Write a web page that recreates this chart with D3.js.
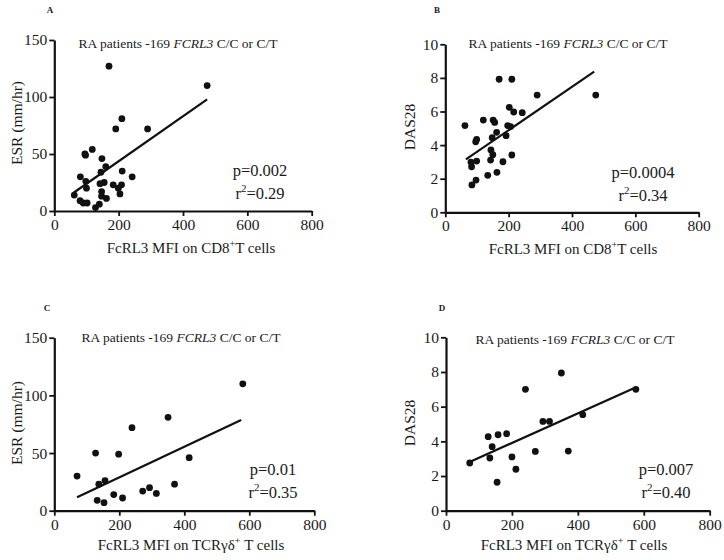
<!DOCTYPE html>
<html>
<head>
<meta charset="utf-8">
<script src="https://cdn.jsdelivr.net/npm/d3@7"></script>
<style>
  html, body { margin: 0; padding: 0; background: #fff; }
  svg text { font-family: "Liberation Serif", "Times New Roman", serif; fill: #1a1a1a; }
</style>
</head>
<body>
<svg id="chart" width="724" height="560"></svg>
<script>
// ---------- DATA ----------
// Panel A: FcRL3 MFI on CD8+ T cells vs ESR
const aMfi = [170, 475, 210, 191, 290, 118, 95, 97, 148, 160, 211, 145, 81, 242, 98, 155, 142, 183, 209, 100, 199, 147, 204, 62, 147, 162, 80, 90, 102, 140, 128];
const aEsr = [127, 110, 81, 72, 72, 54, 50, 49, 46, 39, 35, 34, 30, 30, 26, 25, 24, 23, 23, 20, 20, 17, 15, 14, 13, 11, 9, 7, 7, 6, 3];
// Panel B: FcRL3 MFI on CD8+ T cells vs DAS28
const bMfi = [170, 210, 290, 475, 202, 216, 243, 120, 151, 156, 62, 197, 206, 162, 192, 148, 99, 96, 144, 150, 210, 143, 182, 99, 81, 83, 134, 163, 97, 84];
const bDas = [7.92, 7.92, 6.98, 6.98, 6.25, 5.97, 5.93, 5.49, 5.49, 5.35, 5.16, 5.16, 5.1, 4.76, 4.56, 4.44, 4.34, 4.2, 3.71, 3.43, 3.41, 3.11, 3.01, 3.05, 2.99, 2.71, 2.2, 2.38, 1.92, 1.63];
// Panel C: FcRL3 MFI on TCRγδ+ T cells vs ESR
const cMfi = [580, 350, 239, 127, 198, 415, 70, 156, 137, 370, 293, 272, 314, 183, 210, 132, 153];
const cEsr = [110, 81, 72, 50, 49, 46, 30, 26, 23, 23, 20, 17, 15, 14, 11, 9, 7];
// Panel D: FcRL3 MFI on TCRγδ+ T cells vs DAS28
const dMfi = [350, 241, 576, 415, 294, 314, 128, 158, 184, 140, 271, 371, 133, 200, 72, 212, 155];
const dDas = [7.94, 7.0, 7.0, 5.54, 5.15, 5.15, 4.27, 4.38, 4.44, 3.69, 3.42, 3.44, 3.04, 3.1, 2.75, 2.39, 1.64];
// Regression line end points
const aFit = [[60, 16], [475, 98]];
const bFit = [[65, 3.15], [470, 8.37]];
const cFit = [[70, 11.6], [575, 78.6]];
const dFit = [[70, 2.8], [575, 7.1]];
// Tick values
const xTicks = [0, 200, 400, 600, 800];
const esrTicks = [0, 50, 100, 150];
const dasTicks = [0, 2, 4, 6, 8, 10];
// Annotation text
const pValues = ["p=0.002", "p=0.0004", "p=0.01", "p=0.007"];
const r2Values = ["0.29", "0.34", "0.35", "0.40"];
const panelLetters = ["A", "B", "C", "D"];

// ---------- LAYOUT ----------
const svg = d3.select("#chart");
const panels = [
  { letter: panelLetters[0], xs: aMfi, ys: aEsr, fit: aFit, yDomain: [0, 150], yTicks: esrTicks,
    xr: [54.3, 311.7], yr: [211, 40], yLabel: "ESR (mm/hr)", cell: "CD8",
    p: pValues[0], r2: r2Values[0], letterPos: [50, 13], titlePos: [178, 48], statPos: [260, 176],
    yLabelPos: [17, 123], xLabelPos: [191, 253] },
  { letter: panelLetters[1], xs: bMfi, ys: bDas, fit: bFit, yDomain: [0, 10], yTicks: dasTicks,
    xr: [445.3, 698.7], yr: [212.3, 44.3], yLabel: "DAS28", cell: "CD8",
    p: pValues[1], r2: r2Values[1], letterPos: [437, 13], titlePos: [568, 48], statPos: [643, 178],
    yLabelPos: [410, 127], xLabelPos: [573, 254] },
  { letter: panelLetters[2], xs: cMfi, ys: cEsr, fit: cFit, yDomain: [0, 150], yTicks: esrTicks,
    xr: [54.3, 314.3], yr: [510.7, 337.7], yLabel: "ESR (mm/hr)", cell: "TCR",
    p: pValues[2], r2: r2Values[2], letterPos: [47, 311], titlePos: [181, 342], statPos: [273, 475],
    yLabelPos: [17, 423], xLabelPos: [191, 550] },
  { letter: panelLetters[3], xs: dMfi, ys: dDas, fit: dFit, yDomain: [0, 10], yTicks: dasTicks,
    xr: [446, 709.7], yr: [510.7, 337.3], yLabel: "DAS28", cell: "TCR",
    p: pValues[3], r2: r2Values[3], letterPos: [442, 311], titlePos: [575, 344], statPos: [666, 475],
    yLabelPos: [410, 423], xLabelPos: [574, 550] }
];

panels.forEach(P => {
  const x = d3.scaleLinear().domain([0, 800]).range(P.xr);
  const y = d3.scaleLinear().domain(P.yDomain).range(P.yr);
  const g = svg.append("g");

  // Axes
  const xAxis = d3.axisBottom(x).tickValues(xTicks).tickSize(5).tickSizeOuter(0).tickPadding(3);
  const yAxis = d3.axisLeft(y).tickValues(P.yTicks).tickSize(5).tickSizeOuter(0).tickPadding(2);
  const gx = g.append("g").attr("transform", `translate(0,${P.yr[0]})`).call(xAxis);
  const gy = g.append("g").attr("transform", `translate(${P.xr[0]},0)`).call(yAxis);
  [gx, gy].forEach(a => {
    a.select(".domain").attr("stroke", "#111").attr("stroke-width", 2.2);
    a.selectAll(".tick line").attr("stroke", "#111").attr("stroke-width", 1.8);
    a.selectAll(".tick text").style("font-family", '"Liberation Serif", serif')
      .style("font-size", "15.5px").attr("fill", "#1a1a1a");
  });

  // Regression line
  g.append("line")
    .attr("x1", x(P.fit[0][0])).attr("y1", y(P.fit[0][1]))
    .attr("x2", x(P.fit[1][0])).attr("y2", y(P.fit[1][1]))
    .attr("stroke", "#111").attr("stroke-width", 2.2);

  // Points
  g.selectAll("circle.pt").data(P.xs.map((v, i) => [v, P.ys[i]])).enter()
    .append("circle").attr("class", "pt")
    .attr("cx", d => x(d[0])).attr("cy", d => y(d[1]))
    .attr("r", 3.4).attr("fill", "#111");

  // Panel letter
  g.append("text").attr("x", P.letterPos[0]).attr("y", P.letterPos[1])
    .attr("text-anchor", "middle").style("font-size", "9px").style("font-weight", "bold")
    .text(P.letter);

  // Title
  const t = g.append("text").attr("x", P.titlePos[0]).attr("y", P.titlePos[1])
    .attr("text-anchor", "middle").style("font-size", "13.5px");
  t.append("tspan").text("RA patients -169 ");
  t.append("tspan").style("font-style", "italic").text("FCRL3");
  t.append("tspan").text(" C/C or C/T");

  // Stats
  g.append("text").attr("x", P.statPos[0]).attr("y", P.statPos[1])
    .attr("text-anchor", "middle").style("font-size", "16.5px").text(P.p);
  const r = g.append("text").attr("x", P.statPos[0]).attr("y", P.statPos[1] + 23)
    .attr("text-anchor", "middle").style("font-size", "16.5px");
  r.append("tspan").text("r");
  r.append("tspan").attr("dy", -7).style("font-size", "11px").text("2");
  r.append("tspan").attr("dy", 7).text("=" + P.r2);

  // Y label
  g.append("text").attr("transform", `translate(${P.yLabelPos[0]},${P.yLabelPos[1]}) rotate(-90)`)
    .attr("text-anchor", "middle").attr("dy", "0.35em").style("font-size", "15.5px").text(P.yLabel);

  // X label
  const xl = g.append("text").attr("x", P.xLabelPos[0]).attr("y", P.xLabelPos[1])
    .attr("text-anchor", "middle").style("font-size", "15px");
  if (P.cell === "CD8") {
    xl.append("tspan").text("FcRL3 MFI on CD8");
    xl.append("tspan").attr("dy", -6).style("font-size", "10px").text("+");
    xl.append("tspan").attr("dy", 6).text("T cells");
  } else {
    xl.append("tspan").text("FcRL3 MFI on TCRγδ");
    xl.append("tspan").attr("dy", -6).style("font-size", "10px").text("+");
    xl.append("tspan").attr("dy", 6).text(" T cells");
  }
});
</script>
</body>
</html>
